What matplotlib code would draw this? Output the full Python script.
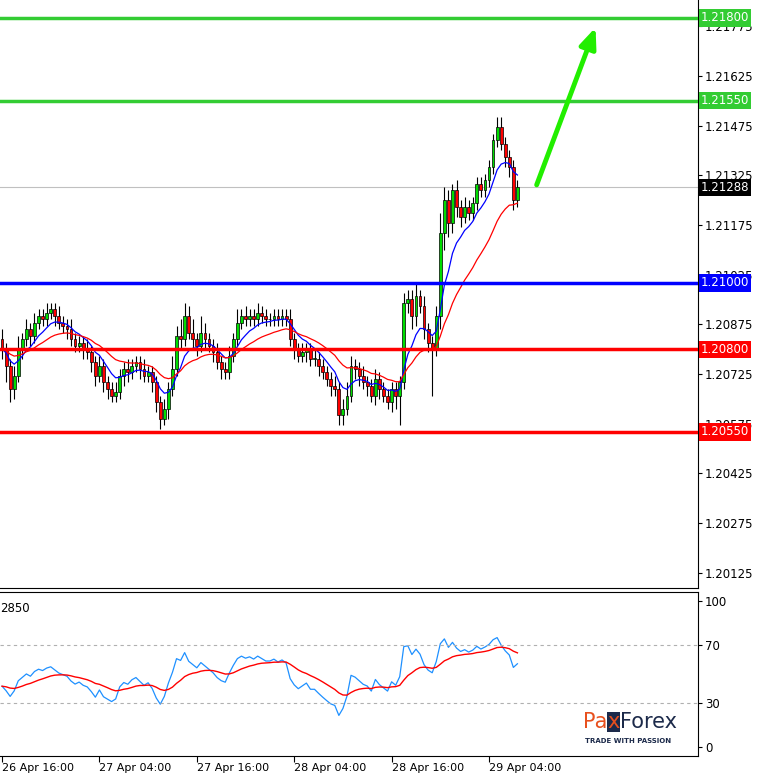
import matplotlib
matplotlib.use("Agg")
import matplotlib.pyplot as plt
import numpy as np
import pandas as pd

closes = [
    1.2080, 1.2075, 1.2068, 1.2072, 1.2080, 1.2083, 1.2086, 1.2084, 1.2088, 1.2090,
    1.2089, 1.2091, 1.2092, 1.2090, 1.2088, 1.2087, 1.2086, 1.2083, 1.2081, 1.2082,
    1.2080, 1.2079, 1.2076, 1.2072, 1.2075, 1.2070, 1.2068, 1.2066, 1.2067, 1.2072,
    1.2074, 1.2073, 1.2075, 1.2076, 1.2074, 1.2072, 1.2073, 1.2070, 1.2064, 1.2059,
    1.2062, 1.2068, 1.2074, 1.2084, 1.2083, 1.2090, 1.2085, 1.2083, 1.2081, 1.2085,
    1.2083, 1.2081, 1.2079, 1.2076, 1.2074, 1.2073, 1.2078, 1.2083, 1.2088, 1.2090,
    1.2089, 1.2090, 1.2089, 1.2091, 1.2090, 1.2089, 1.2089, 1.2090, 1.2089, 1.2090,
    1.2089, 1.2083, 1.2080, 1.2078, 1.2079, 1.2080, 1.2077, 1.2077, 1.2075, 1.2073,
    1.2071, 1.2069, 1.2068, 1.2060, 1.2062, 1.2066, 1.2075, 1.2074, 1.2072, 1.2070,
    1.2069, 1.2066, 1.2071, 1.2068, 1.2066, 1.2064, 1.2068, 1.2066, 1.2070, 1.2094,
    1.2095, 1.2090, 1.2096, 1.2093, 1.2086, 1.2082, 1.2080, 1.2090, 1.2115, 1.2125,
    1.2118, 1.2128, 1.2123, 1.2120, 1.2123, 1.2121, 1.2124, 1.2130, 1.2128, 1.2131,
    1.2135, 1.2143, 1.2147, 1.2142, 1.2138, 1.2135, 1.2125, 1.2129,
]
first_open = 1.2083
# wick lengths in pips (1 pip = 0.0001)
wick_up = [3, 2, 2, 3, 4, 2, 3, 2, 3, 2, 2, 3, 2, 2, 3, 2, 2, 3, 2, 2,
           2, 3, 2, 2, 3, 2, 2, 2, 3, 2, 2, 3, 2, 2, 2, 3, 2, 2, 2, 2,
           3, 2, 4, 3, 5, 4, 3, 4, 2, 5, 3, 2, 2, 3, 2, 2, 3, 2, 4, 2,
           3, 2, 2, 3, 2, 2, 2, 2, 2, 2, 2, 3, 2, 2, 3, 2, 2, 3, 2, 2,
           2, 2, 3, 2, 3, 4, 3, 2, 2, 3, 2, 2, 3, 2, 2, 2, 2, 2, 2, 3,
           3, 3, 4, 2, 3, 2, 2, 3, 6, 4, 3, 2, 3, 2, 3, 2, 2, 2, 2, 2,
           2, 2, 3, 3, 2, 2, 2, 2]
wick_dn = [3, 5, 4, 3, 2, 3, 2, 3, 2, 2, 2, 2, 2, 3, 2, 2, 3, 2, 2, 2,
           3, 2, 3, 3, 2, 3, 3, 2, 2, 2, 3, 3, 2, 2, 3, 2, 2, 3, 3, 3,
           2, 3, 2, 2, 3, 2, 2, 3, 3, 2, 3, 2, 3, 2, 3, 2, 2, 2, 2, 2,
           2, 2, 2, 2, 2, 2, 2, 2, 2, 2, 2, 2, 3, 2, 2, 3, 2, 2, 3, 2,
           2, 3, 2, 3, 3, 2, 2, 3, 3, 2, 3, 2, 3, 3, 2, 2, 3, 4, 9, 2,
           3, 4, 3, 2, 3, 3, 14, 2, 4, 5, 4, 3, 3, 3, 2, 2, 2, 2, 2, 2,
           2, 2, 2, 2, 3, 3, 3, 2]

levels = [1.2180, 1.2155, 1.2100, 1.2080, 1.2055]
level_labels = ["1.21800", "1.21550", "1.21000", "1.20800", "1.20550"]
level_colors = ["#33cc33", "#33cc33", "#0000ff", "#ff0000", "#ff0000"]
last_price = 1.21288
price_ticks = [1.21775, 1.21625, 1.21475, 1.21325, 1.21175, 1.21025,
               1.20875, 1.20725, 1.20575, 1.20425, 1.20275, 1.20125]
time_labels = ["26 Apr 16:00", "27 Apr 04:00", "27 Apr 16:00",
               "28 Apr 04:00", "28 Apr 16:00", "29 Apr 04:00"]
time_bars = [0, 24, 48, 72, 96, 120]
arrow_from = (131.5, 1.21288)
arrow_to = (146.5, 1.21779)

c = np.array(closes)
o = np.concatenate([[first_open], c[:-1]])
h = np.maximum(o, c) + np.array(wick_up) * 0.0001
l = np.minimum(o, c) - np.array(wick_dn) * 0.0001
idx = np.arange(len(c))
s = pd.Series(c)
ma_fast = s.ewm(span=8, adjust=False).mean()
ma_slow = s.ewm(span=21, adjust=False).mean()
delta = s.diff().fillna(0)
up = delta.clip(lower=0)
dn = -delta.clip(upper=0)
up.iloc[0], dn.iloc[0] = 0.00020, 0.00028  # seed for the averages
gain = up.ewm(alpha=1 / 14, adjust=False).mean()
loss = dn.ewm(alpha=1 / 14, adjust=False).mean()
rsi = 100 - 100 / (1 + gain / loss)
rsi_ma = rsi.ewm(span=14, adjust=False).mean()

W, H = 763, 775
fig = plt.figure(figsize=(W / 100, H / 100), dpi=100)
ax = fig.add_axes([0, 1 - 588 / H, 698 / W, 588 / H])
ax2 = fig.add_axes([0, 1 - 756 / H, 698 / W, 164 / H])
xmin, xmax = -0.5, 171.5

for i in idx:
    col = "#00dd00" if c[i] >= o[i] else "#ff0000"
    ax.vlines(i, l[i], h[i], color="black", lw=0.8, zorder=3)
    bot, top = min(o[i], c[i]), max(o[i], c[i])
    ax.bar(i, max(top - bot, 0.00002), 0.7, bottom=bot, color=col,
           edgecolor="black", lw=0.5, zorder=4)
ax.plot(idx, ma_fast, color="#0000ff", lw=0.9, zorder=5)
ax.plot(idx, ma_slow, color="#ff0000", lw=0.9, zorder=5)

for lv, lab, col in zip(levels, level_labels, level_colors):
    ax.axhline(lv, color=col, lw=2.5, zorder=6)
    ax.text(1.004, lv, lab, transform=ax.get_yaxis_transform(), va="center",
            ha="left", color="white", fontsize=8.5, zorder=10,
            bbox=dict(facecolor=col, edgecolor="none", pad=1.5), clip_on=False)
ax.axhline(last_price, color="#c0c0c0", lw=0.8, zorder=1)
ax.text(1.004, last_price, "1.21288", transform=ax.get_yaxis_transform(),
        va="center", ha="left", color="white", fontsize=8.5, zorder=10,
        bbox=dict(facecolor="black", edgecolor="none", pad=1.5), clip_on=False)
ax.annotate("", xy=arrow_to, xytext=arrow_from,
            arrowprops=dict(arrowstyle="-|>,head_width=0.5,head_length=1.2",
                            color="#22ee00", lw=3.5), zorder=7)

ax.set_xlim(xmin, xmax)
ax.set_ylim(1.20079, 1.21854)
ax.yaxis.tick_right()
ax.set_yticks(price_ticks)
ax.set_yticklabels([f"{p:.5f}" for p in price_ticks])
ax.tick_params(axis="y", labelsize=8.5, length=3, pad=2)
ax.set_xticks([])
for sp in ["left", "top"]:
    ax.spines[sp].set_visible(False)

ax2.plot(idx, rsi, color="#1e90ff", lw=0.9)
ax2.plot(idx, rsi_ma, color="#ff0000", lw=1.0)
for lv in (70, 30):
    ax2.axhline(lv, color="#b0b0b0", lw=0.8, ls=(0, (3, 3)))
ax2.set_xlim(xmin, xmax)
ax2.set_ylim(-6, 106)
ax2.yaxis.tick_right()
ax2.set_yticks([100, 70, 30, 0])
ax2.tick_params(axis="y", labelsize=8.5, length=3, pad=2)
ax2.set_xticks(time_bars)
ax2.set_xticklabels(time_labels, ha="left")
ax2.tick_params(axis="x", labelsize=8, length=4, pad=1)
ax2.spines["left"].set_visible(False)
ax2.text(0.0, 0.9, "2850", transform=ax2.transAxes, fontsize=8.5, va="center")

fig.text(583 / W, 1 - 722 / H, "Pa", color="#e8501e", fontsize=15, va="center")
fig.text(607 / W, 1 - 722 / H, "x", color="#e8501e", fontsize=15, va="center",
         bbox=dict(facecolor="#1c2a4a", edgecolor="none", pad=0.3))
fig.text(620 / W, 1 - 722 / H, "Forex", color="#1c2a4a", fontsize=15, va="center")
fig.text(585 / W, 1 - 741 / H, "TRADE WITH PASSION", color="#1c2a4a",
         fontsize=5, va="center", fontweight="bold")

fig.savefig("out.png", dpi=100)
